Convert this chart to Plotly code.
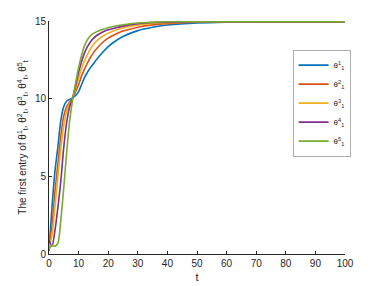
import plotly.graph_objects as go

t = [0, 1, 2, 3, 4, 5, 6, 7, 8, 9, 10, 11, 12, 13, 14, 15, 16, 18, 20, 22, 25, 30, 35, 40, 50, 60, 70, 80, 90, 100]

theta1 = [0.2, 3.0, 5.3, 6.9, 8.6, 9.5, 9.85, 9.95, 10.05, 10.2, 10.45, 10.9, 11.35, 11.7, 12.0, 12.25, 12.5, 12.95, 13.35, 13.65, 14.0, 14.38, 14.6, 14.74, 14.88, 14.93, 14.95, 14.96, 14.96, 14.96]
theta2 = [0.5, 1.8, 4.0, 5.8, 7.6, 8.9, 9.5, 9.8, 10.05, 10.45, 10.9, 11.45, 11.9, 12.3, 12.65, 12.95, 13.2, 13.6, 13.9, 14.1, 14.35, 14.6, 14.75, 14.83, 14.92, 14.95, 14.96, 14.96, 14.96, 14.96]
theta3 = [0.4, 1.2, 3.0, 5.0, 6.8, 8.3, 9.2, 9.7, 10.05, 10.65, 11.3, 11.95, 12.45, 12.85, 13.2, 13.48, 13.7, 14.0, 14.22, 14.38, 14.55, 14.75, 14.85, 14.9, 14.94, 14.96, 14.96, 14.96, 14.96, 14.96]
theta4 = [0.9, 0.5, 1.5, 3.0, 4.7, 6.9, 8.5, 9.5, 10.05, 10.85, 11.7, 12.4, 12.95, 13.35, 13.65, 13.88, 14.05, 14.28, 14.43, 14.54, 14.67, 14.82, 14.9, 14.93, 14.95, 14.96, 14.96, 14.96, 14.96, 14.96]
theta5 = [0.3, 0.55, 0.5, 0.7, 2.2, 4.3, 6.6, 8.6, 9.95, 11.0, 12.0, 12.8, 13.4, 13.8, 14.05, 14.2, 14.3, 14.45, 14.57, 14.66, 14.76, 14.87, 14.92, 14.95, 14.96, 14.96, 14.96, 14.96, 14.96, 14.96]

series = [theta1, theta2, theta3, theta4, theta5]
names = ["θ<sup>%d</sup><sub>1</sub>" % i for i in range(1, 6)]
colors = ["#0072BD", "#D95319", "#EDB120", "#7E2F8E", "#77AC30"]

x_ticks = [0, 10, 20, 30, 40, 50, 60, 70, 80, 90, 100]
y_ticks = [0, 5, 10, 15]

fig = go.Figure()
for ys, nm, c in zip(series, names, colors):
    fig.add_trace(go.Scatter(x=t, y=ys, mode="lines", name=nm,
                             line=dict(color=c, width=1.6, shape="spline", smoothing=0.8)))

axis_color = "#262626"
fig.update_layout(
    width=374, height=278,
    margin=dict(l=41, r=37, t=13, b=32),
    paper_bgcolor="white", plot_bgcolor="white",
    font=dict(family="Liberation Sans, Arial, sans-serif", size=10, color=axis_color),
    showlegend=True,
    legend=dict(x=0.824, y=0.876, xanchor="left", yanchor="top",
                bordercolor="#8c8c8c", borderwidth=0.7, bgcolor="white",
                font=dict(size=8), itemwidth=30, tracegroupgap=0),
    xaxis=dict(range=[0, 100], tickvals=x_ticks, ticks="inside", ticklen=3,
               tickcolor=axis_color, showline=True, linecolor=axis_color, linewidth=0.8,
               showgrid=False, zeroline=False, automargin=False,
               title=dict(text="t", font=dict(size=11), standoff=5)),
    yaxis=dict(range=[0, 15], tickvals=y_ticks, ticks="inside", ticklen=3,
               tickcolor=axis_color, showline=True, linecolor=axis_color, linewidth=0.8,
               showgrid=False, zeroline=False, automargin=False,
               title=dict(text="The first entry of θ<sup>1</sup><sub>t</sub>, θ<sup>2</sup><sub>t</sub>, θ<sup>3</sup><sub>t</sub>, θ<sup>4</sup><sub>t</sub>, θ<sup>5</sup><sub>t</sub>",
                          font=dict(size=10), standoff=6)),
)

fig.write_html("out.html")
